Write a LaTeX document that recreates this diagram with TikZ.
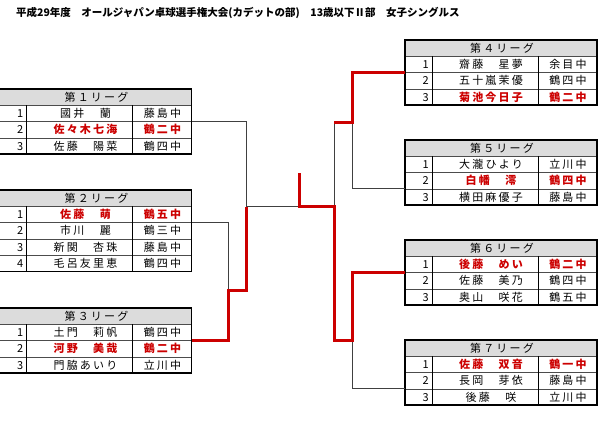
\documentclass[tikz,border=0pt]{standalone}
\usepackage{fontspec}
\setmainfont{Noto Sans CJK JP}
\newfontfamily\cellfont{Noto Sans CJK JP}[LetterSpace=20]
\newfontfamily\titlefont{Noto Sans CJK JP}
\usetikzlibrary{calc}
\definecolor{winred}{RGB}{204,0,0}
\definecolor{headgray}{RGB}{220,220,220}

\newcommand{\league}[6]{%
  \fill[headgray] (#2,#3) rectangle ++(192,16.3);
  \node[head] (#1h) at (#2+97,#3+8.2) {第#5リーグ};
  \foreach \n/\nm/\sc/\st [count=\i] in {#6}{
    \draw[rowline] (#2,#3+16.3*\i) -- ++(192,0);
    \node[num] (#1n\i) at (#2+24,#3+8.2+16.3*\i) {\n};
    \node[\st] (#1p\i) at (#2+86,#3+8.2+16.3*\i) {\nm};
    \node[\st] (#1s\i) at (#2+163,#3+8.2+16.3*\i) {\sc};
  }
  \draw[colline] (#2+27,#3+16.3) -- ++(0,16.3*#4);
  \draw[colline] (#2+133,#3+16.3) -- ++(0,16.3*#4);
  \draw[frame] (#2,#3) rectangle ++(192,16.3*#4+16.3);
}

\begin{document}
\begin{tikzpicture}[x=1pt,y=-1pt,
    head/.style={inner sep=0pt, font=\cellfont\fontsize{11}{13}\selectfont},
    cell/.style={inner sep=0pt, font=\cellfont\fontsize{11}{13}\selectfont},
    win/.style={cell, text=winred, font=\cellfont\fontsize{11}{13}\selectfont\bfseries},
    num/.style={anchor=east, inner sep=0pt, font=\cellfont\fontsize{11}{13}\selectfont},
    rowline/.style={line width=0.8pt, black!70},
    colline/.style={line width=0.9pt, black},
    frame/.style={line width=1.6pt, black},
    thin/.style={line width=1pt, black!75},
    winline/.style={line width=3pt, winred}]
  \useasboundingbox (0,0) rectangle (600,439);
  \node[anchor=west, inner sep=0pt, font=\titlefont\fontsize{10.5}{12}\selectfont\bfseries] (title) at (16,13.3)
    {平成29年度　オールジャパン卓球選手権大会(カデットの部)　13歳以下Ⅱ部　女子シングルス};

  \league{L1}{-0.5}{89}{3}{１}{1/國井　蘭/藤島中/cell, 2/佐々木七海/鶴二中/win, 3/佐藤　陽菜/鶴四中/cell}
  \league{L2}{-0.5}{190}{4}{２}{1/佐藤　萌/鶴五中/win, 2/市川　麗/鶴三中/cell, 3/新関　杏珠/藤島中/cell, 4/毛呂友里恵/鶴四中/cell}
  \league{L3}{-0.5}{308}{3}{３}{1/土門　莉帆/鶴四中/cell, 2/河野　美哉/鶴二中/win, 3/門脇あいり/立川中/cell}
  \league{R4}{405}{40}{3}{４}{1/齋藤　星夢/余目中/cell, 2/五十嵐茉優/鶴四中/cell, 3/菊池今日子/鶴二中/win}
  \league{R5}{405}{140}{3}{５}{1/大瀧ひより/立川中/cell, 2/白幡　澪/鶴四中/win, 3/横田麻優子/藤島中/cell}
  \league{R6}{405}{240}{3}{６}{1/後藤　めい/鶴二中/win, 2/佐藤　美乃/鶴四中/cell, 3/奥山　咲花/鶴五中/cell}
  \league{R7}{405}{340}{3}{７}{1/佐藤　双音/鶴一中/win, 2/長岡　芽依/藤島中/cell, 3/後藤　咲/立川中/cell}

  \coordinate (L1out) at (191.5,121.6);
  \coordinate (L2out) at (191.5,222.6);
  \coordinate (L3out) at (191.5,340.6);
  \coordinate (R4in) at (405,72.6);
  \coordinate (R5in) at (405,188.9);
  \coordinate (R6in) at (405,272.6);
  \coordinate (R7in) at (405,388.9);
  \coordinate (q23) at (228.3,290);
  \coordinate (s1) at (246.7,206.7);
  \coordinate (f) at (299.3,206.7);
  \coordinate (top) at (299.3,173.3);
  \coordinate (q45) at (352.7,122.7);
  \coordinate (q67) at (352.7,340.6);
  \coordinate (s2top) at (334.3,122.7);
  \coordinate (s2) at (334.3,206.7);

  \draw[thin] (L1out) -| (s1);
  \draw[thin] (L2out) -| (q23);
  \draw[thin] (s1) -- (f);
  \draw[thin] (R5in) -| (q45);
  \draw[thin] (R7in) -| (q67);
  \draw[thin] (s2top) -- (s2);

  \draw[winline] (L3out) -| (q23) -| (s1);
  \draw[winline] (R4in) -| (q45) -- (s2top);
  \draw[winline] (R6in) -| (q67) -| (s2) -- (f) -- (top);
\end{tikzpicture}
\end{document}
